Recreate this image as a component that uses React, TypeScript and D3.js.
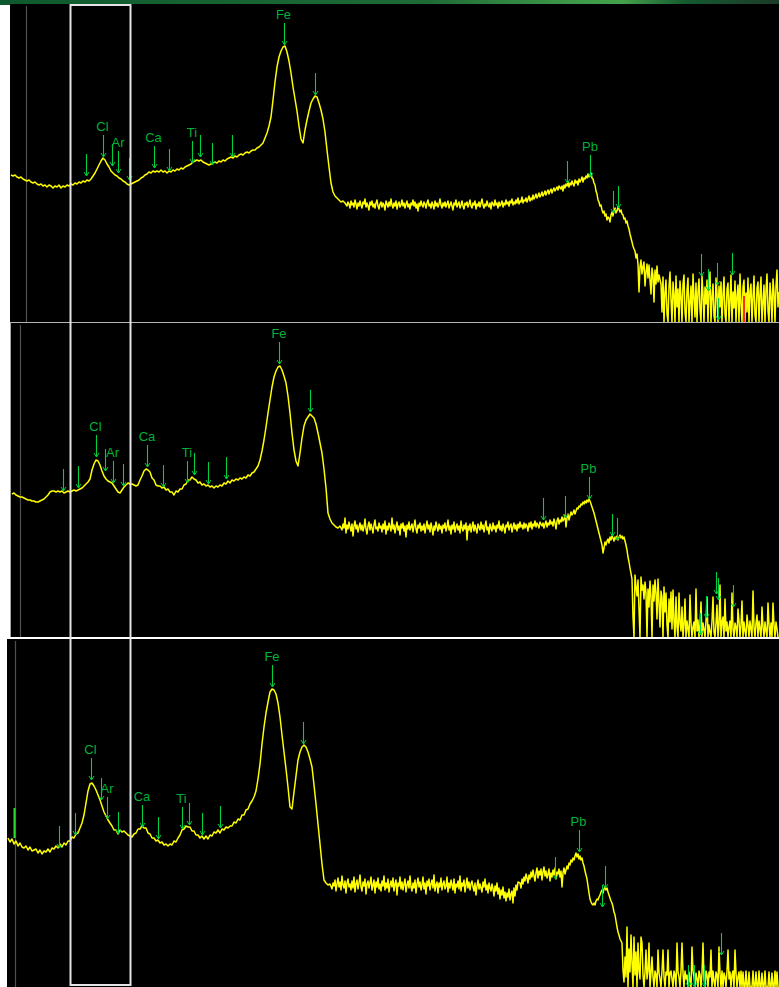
import React from 'react';
import * as d3 from 'd3';

// ---------- DATA ----------
// Spectra: counts per segment; each segment starts at the channel in *Starts and advances by *Steps channels.
const spec1Starts = [1, 61, 123, 255, 337, 551, 651];
const spec1Steps = [2, 2, 2, 2, 1, 1, 1];
const spec1A = [147,146,147,145,144,145,143,142,141,142,140,139,140,138,137,138,136,137,135,137,136,134,136,135,137,134,136,135,137,136];
const spec1B = [138,137,139,138,140,139,141,140,142,141,143,146,149,153,157,161,164,162,158,155,151,149,147,146,144,143,141,140,138,137,138];
const spec1C = [139,140,141,142,144,145,147,148,150,149,151,150,151,150,152,150,151,149,151,150,152,151,153,152,154,153,155,156,157,158,160,161,162,161,162,160,159,158,157,158,159,160,159,161,160,162,161,163,164,165,164,166,165,167,168,167,169,170,169,171,172,172,174,175,177,179];
const spec1D = [184,189,196,205,222,240,255,265,271,275,276,270,261,249,235,223,211,196,183,179,192,202,211,219,223,226,225,219,212,203,190,172,155,139,130,126,124,122,120,121,119];
const spec1E = [
  116,120,118,114,121,117,119,115,122,118,113,119,116,121,117,114,120,118,123,115,
  119,116,112,120,117,121,115,118,114,119,122,116,113,118,120,115,119,117,112,121,
  118,115,120,116,123,117,114,119,116,121,113,118,120,115,117,122,116,119,114,118,
  121,115,118,113,119,117,122,116,120,114,118,111,119,116,121,117,115,120,118,114,
  119,122,116,118,114,120,117,113,121,116,119,115,118,123,117,114,119,116,120,115,
  118,121,114,117,120,116,112,119,117,122,115,118,120,114,117,121,116,113,119,117,
  120,115,118,122,116,114,119,117,121,113,118,116,120,115,119,123,117,114,118,116,
  121,117,115,119,113,120,118,116,122,117,119,114,120,116,118,121,115,119,117,122,
  118,120,116,121,119,123,117,120,118,122,119,124,118,121,120,125,119,122,121,124,
  120,123,126,121,124,122,127,123,125,128,124,126,129,125,127,130,126,128,131,127,
  130,132,128,131,133,129,132,134,131,133,135,132,136];
const spec1F = [
  133,136,131,137,134,138,136,140,135,139,137,141,138,136,142,139,141,137,143,140,
  142,145,140,144,143,146,144,148,145,147,149,144,143,139,137,131,128,122,120,116,
  117,112,109,111,106,108,102,105,104,100,107,110,106,112,114,109,111,115,113,110,
  112,108,107,103,104,99,101,96,93,88,84,80,76,73,71,64,68,58,30,55,
  62,48,55,60,36,50,58,44,57,42,28,54,47,20,52,38,56,40,47];
const spec1G = [
  38,10,45,0,30,42,8,0,35,50,22,0,40,28,0,46,15,33,0,41,
  26,0,38,47,10,0,32,44,0,20,36,0,48,25,5,39,0,30,43,12,
  0,46,28,0,35,18,42,0,31,50,0,24,38,6,0,44,29,0,36,15,
  40,0,27,45,8,0,33,39,0,22,47,0,30,14,41,0,26,37,0,48,
  18,0,35,42,0,29,10,44,0,31,38,0,25,46,7,0,34,40,0,28,
  45,0,20,37,0,32,48,11,0,39,26,0,43,30,0,36,52,15,30];

const spec2Starts = [2, 82, 130, 250, 332, 532, 622];
const spec2Steps = [2, 2, 2, 2, 1, 1, 1];
const spec2A = [143,144,142,141,140,140,139,138,137,137,136,136,135,135,136,137,138,140,142,145,146,146,145,146,145,146,144,145,146,145,146,147,146,147,148,149,151,153,155,158];
const spec2B = [167,173,177,176,172,166,161,158,156,155,154,151,148,145,144,147,150,152,154,153,153,152,151,152];
const spec2C = [157,161,166,168,167,165,159,157,152,151,151,149,150,147,148,145,145,142,146,145,148,148,152,153,157,157,160,158,157,154,155,152,153,151,152,150,151,149,151,150,152,151,154,153,156,154,157,156,158,157,159,158,160,159,162,161,164,165,168,171];
const spec2D = [177,186,197,210,224,237,250,260,266,270,271,267,261,254,241,224,204,187,176,171,184,199,211,217,220,223,221,219,213,204,194,184,168,149,124,118,114,112,110,109,111];
const spec2E = [
  107,113,109,119,104,112,108,115,110,106,113,101,111,116,108,112,105,110,114,107,
  112,106,110,118,108,103,111,115,107,113,109,104,112,117,108,110,106,114,109,111,
  105,113,108,116,103,111,107,114,110,106,119,108,112,104,110,115,107,111,102,113,
  109,114,106,111,100,112,108,115,107,110,113,105,111,117,108,104,112,109,114,106,
  111,107,113,104,110,116,108,112,105,114,109,102,111,107,115,110,106,113,108,111,
  104,112,109,114,106,110,117,107,111,103,112,108,115,105,110,113,107,111,104,116,
  109,106,112,108,114,97,111,107,113,105,110,115,106,112,108,104,113,110,107,115,
  108,112,105,111,116,107,110,103,113,109,106,114,108,111,105,112,109,116,107,111,
  106,113,109,104,112,110,115,107,111,113,105,110,114,108,112,106,113,109,115,110,
  112,108,114,109,113,111,106,114,110,115,108,113,111,116,110,114,112,109,115];
const spec2F = [
  111,114,109,113,116,110,114,112,117,113,115,111,118,114,108,116,119,113,117,115,
  120,116,118,122,110,119,123,117,121,125,122,124,127,123,126,129,128,131,130,133,
  132,135,133,136,134,137,135,138,136,133,130,127,124,120,116,112,108,104,100,96,
  92,84,89,95,92,96,98,94,100,97,101,99,96,100,98,101,97,100,102,99,
  101,98,100,96,92,87,80,75,69];
const spec2G = [
  58,20,0,62,50,41,57,28,0,60,47,52,38,55,44,0,48,30,56,40,
  0,52,36,57,44,18,58,35,10,46,40,0,50,25,44,12,0,38,15,45,
  8,47,16,0,40,10,0,44,14,6,30,0,12,38,0,16,8,0,42,14,
  0,10,15,0,48,6,17,0,12,35,0,14,8,0,16,40,0,12,5,0,
  16,40,5,0,14,32,0,12,52,0,15,20,0,38,6,15,0,10,16,0,
  44,8,0,14,10,0,28,16,0,12,36,0,15,6,0,22,12,0,16,8,
  0,46,10,0,14,22,0,16,8,0,30,10,0,15,6,0,34,12,0,14,
  0,34,12,0,15,8,0];

const spec3Starts = [1, 73, 125, 245, 325, 513, 615];
const spec3Steps = [2, 2, 2, 2, 1, 1, 1];
const spec3A = [149,145,148,143,146,141,144,140,139,141,137,140,136,137,138,134,137,133,136,135,138,135,139,138,141,139,143,140,144,142,146,146,150,149,153,154];
const spec3B = [159,164,172,184,196,203,204,201,197,192,187,181,175,171,167,164,161,157,157,153,157,155,156,154,152,151];
const spec3C = [150,153,154,158,158,161,159,159,154,153,149,149,146,147,144,145,142,143,141,143,142,146,145,149,152,157,158,161,160,160,156,156,152,152,149,151,148,151,148,152,151,155,154,157,154,158,157,160,159,161,161,165,164,168,167,172,172,177,178,183];
const spec3D = [186,190,196,208,223,243,260,274,285,295,298,297,293,284,270,252,235,218,200,180,178,195,211,227,235,240,242,240,235,228,220,202,183,163,143,123,107,104,102,103];
const spec3E = [
  98,104,101,107,96,103,109,100,105,97,111,102,99,106,94,104,108,100,103,97,
  106,99,110,95,103,107,98,104,112,100,96,105,101,108,93,103,106,99,104,110,
  97,102,107,94,105,100,109,98,103,96,106,101,111,97,104,99,108,95,102,106,
  100,109,96,103,107,92,104,101,110,98,105,97,103,108,95,102,106,99,111,100,
  96,104,99,107,94,103,109,100,105,97,102,110,98,104,93,106,101,108,97,103,
  107,99,112,96,102,105,94,104,100,109,97,103,106,98,101,110,95,104,99,107,
  102,97,108,94,103,100,106,98,111,96,104,101,107,95,102,109,99,105,97,103,
  106,100,96,104,92,101,107,98,103,99,95,105,100,108,97,102,94,104,99,96,
  103,98,91,101,96,104,93,99,88,97,92,100,89,95,86,94,90,98,87,93,
  96,84,99,91,102,97,105];
const spec3F = [
  104,99,108,103,110,106,113,109,104,112,108,115,110,117,111,106,114,119,109,116,
  112,118,107,115,120,111,116,109,113,118,106,114,110,117,112,119,108,115,113,118,
  110,116,100,114,119,113,117,121,118,124,122,127,125,129,127,131,134,130,133,128,
  131,127,129,124,121,116,112,108,101,94,88,85,83,82,84,82,86,88,87,90,
  92,95,97,94,98,100,97,99,95,92,89,86,84,80,75,72,66,60,55,52,
  48];
const spec3G = [
  44,17,5,30,10,60,0,38,15,52,24,0,50,12,35,0,44,16,8,50,
  44,12,0,15,37,8,16,44,0,14,30,10,0,16,12,0,37,14,8,0,
  16,37,10,0,15,12,37,0,14,16,8,0,16,12,0,44,15,10,0,16,
  44,14,0,16,8,12,0,15,6,0,40,16,10,0,14,8,0,16,12,0,
  14,44,8,0,16,12,0,15,10,37,0,16,6,0,15,12,0,40,14,0,
  16,0,14,10,0,16,37,8,15,0,12,16,0,37,14,0,10,15,0,16,
  0,15,0,0,16,0,0,15,0,0,0,16,0,0,15,0,0,16,0,0,
  14,0,0,16,0,0,0,15,0,0,14,0,0,16,0,15,0];

// Element markers: channel, count at arrow tip, label
const mark1Channels = [76, 92.5, 102, 108, 119, 143.5, 159, 182, 190, 202, 222, 273.5, 305, 557, 580, 603, 608, 691, 697.5, 707, 708, 722];
const mark1Tips = [146, 165, 156, 149, 142, 154, 151, 159, 165, 157, 165, 277, 227, 139, 145, 109, 114, 46, 31, 37, 2, 47];
const mark1Labels = ['', 'Cl', '', 'Ar', '', 'Ca', '', 'Ti', '', '', '', 'Fe', '', '', 'Pb', '', '', '', '', '', '', ''];

const mark2Channels = [53, 68, 85.5, 95, 102.5, 112.5, 137, 153, 177, 184, 198, 216, 269, 300, 533, 555, 578.5, 601.5, 607, 690, 696, 706.5, 708, 723];
const mark2Tips = [146, 149, 180, 166, 154, 151, 170, 150, 154, 162, 153, 158, 273, 225, 117, 119, 138, 101, 97, 2, 19, 43, 37, 30];
const mark2Labels = ['', '', 'Cl', '', 'Ar', '', 'Ca', '', 'Ti', '', '', '', 'Fe', '', '', '', 'Pb', '', '', '', '', '', '', ''];

const mark3Channels = [52, 67.5, 83.5, 94, 100, 111, 135, 150.5, 174.5, 181.5, 195, 213, 265, 296.5, 548, 571.5, 595, 598.3, 681, 687, 697, 713.7];
const mark3Tips = [139, 152, 207, 187, 168, 153, 160, 148, 158, 162, 152, 159, 300, 243, 108, 135, 80, 99, 0, 0, 0, 32];
const mark3Labels = ['', '', 'Cl', '', 'Ar', '', 'Ca', '', 'Ti', '', '', '', 'Fe', '', '', 'Pb', '', '', '', '', '', ''];

// Extra cursor flags: panel index, channel, from count, to count, colour
const flagPanels = [0, 2];
const flagChannels = [734, 7.5];
const flagFrom = [0, 149];
const flagTo = [26, 179];
const flagColors = ['#ff2a10', '#2bdc2b'];

// ---------- LAYOUT ----------
const W = 779;
const H = 987;
const panels = [
  { left: 10, top: 4, bottom: 322, maxCount: 318, grayX: 26.5, spec: [spec1A, spec1B, spec1C, spec1D, spec1E, spec1F, spec1G], starts: spec1Starts, steps: spec1Steps, mc: mark1Channels, mt: mark1Tips, ml: mark1Labels },
  { left: 10, top: 323, bottom: 637, maxCount: 314, grayX: 20.5, spec: [spec2A, spec2B, spec2C, spec2D, spec2E, spec2F, spec2G], starts: spec2Starts, steps: spec2Steps, mc: mark2Channels, mt: mark2Tips, ml: mark2Labels },
  { left: 7, top: 639, bottom: 987, maxCount: 348, grayX: 15.5, spec: [spec3A, spec3B, spec3C, spec3D, spec3E, spec3F, spec3G], starts: spec3Starts, steps: spec3Steps, mc: mark3Channels, mt: mark3Tips, ml: mark3Labels },
];
const ARROW = 22;
const YELLOW = '#ffff00';
const GREEN = '#00d040';
const LABEL_GREEN = '#00b238';

function buildPoints(starts: number[], steps: number[], segs: number[][]): [number, number][] {
  const pts: [number, number][] = [];
  segs.forEach((seg, i) => seg.forEach((v, j) => pts.push([starts[i] + steps[i] * j, v])));
  return pts;
}

export default function App() {
  return (
    <svg
      width={W}
      height={H}
      viewBox={`0 0 ${W} ${H}`}
      style={{ position: 'absolute', left: 0, top: 0, display: 'block', background: '#ffffff' }}
      fontFamily="'Liberation Sans', Arial, sans-serif"
    >
      <defs>
        <linearGradient id="topbar" x1="0" x2="1" y1="0" y2="0">
          <stop offset="0" stopColor="#0d5a2e" />
          <stop offset="0.55" stopColor="#1f6b36" />
          <stop offset="0.74" stopColor="#3f9a48" />
          <stop offset="0.8" stopColor="#44a04a" />
          <stop offset="0.88" stopColor="#155a30" />
          <stop offset="1" stopColor="#1c3a28" />
        </linearGradient>
        {panels.map((p, i) => (
          <clipPath id={`clip${i}`} key={i}>
            <rect x={p.left} y={p.top} width={W - p.left} height={p.bottom - p.top} />
          </clipPath>
        ))}
      </defs>
      <rect x={0} y={0} width={W} height={H} fill="#ffffff" />
      <rect x={0} y={0} width={W} height={4} fill="url(#topbar)" />
      <rect x={0} y={0} width={10} height={5} fill="#0d5a2e" />

      {panels.map((p, i) => {
        const xs = d3.scaleLinear().domain([0, W - p.left]).range([p.left, W]);
        const ys = d3.scaleLinear().domain([0, p.maxCount]).range([p.bottom, p.bottom - p.maxCount]);
        const pts = buildPoints(p.starts, p.steps, p.spec);
        const line = d3.line<[number, number]>().x((d) => xs(d[0])).y((d) => ys(d[1]));
        return (
          <g key={i}>
            <rect x={p.left} y={p.top} width={W - p.left} height={p.bottom - p.top} fill="#000000" />
            <line x1={p.grayX} x2={p.grayX} y1={p.top + 2} y2={p.bottom} stroke="#505050" strokeWidth={1.2} />
            <g clipPath={`url(#clip${i})`}>
              <path d={line(pts) || ''} fill="none" stroke={YELLOW} strokeWidth={1.5} strokeLinejoin="round" />
            </g>
            {p.mc.map((c, k) => {
              const x = Math.round(xs(c)) + 0.5;
              const tip = ys(p.mt[k]);
              const top = tip - ARROW;
              return (
                <g key={k}>
                  <line x1={x} x2={x} y1={top} y2={tip} stroke={GREEN} strokeWidth={1.1} />
                  <path d={`M${x - 2.5},${tip - 4}L${x},${tip}L${x + 2.5},${tip - 4}`} fill="none" stroke={GREEN} strokeWidth={1} />
                  {p.ml[k] ? (
                    <text x={xs(c)} y={top - 4} textAnchor="middle" fontSize={13} fill={LABEL_GREEN}>
                      {p.ml[k]}
                    </text>
                  ) : null}
                </g>
              );
            })}
            {flagPanels.map((fp, k) =>
              fp === i ? (
                <line
                  key={`f${k}`}
                  x1={xs(flagChannels[k])}
                  x2={xs(flagChannels[k])}
                  y1={ys(flagFrom[k])}
                  y2={ys(flagTo[k])}
                  stroke={flagColors[k]}
                  strokeWidth={2}
                />
              ) : null
            )}
          </g>
        );
      })}

      {/* panel borders */}
      <line x1={10} x2={W} y1={322.5} y2={322.5} stroke="#b4b4b4" strokeWidth={1} />
      <line x1={10.5} x2={10.5} y1={323} y2={637} stroke="#a8a8a8" strokeWidth={1} />

      {/* highlight box */}
      <rect x={70.5} y={5} width={60} height={980} fill="none" stroke="#e4e4e4" strokeWidth={2} />
    </svg>
  );
}
